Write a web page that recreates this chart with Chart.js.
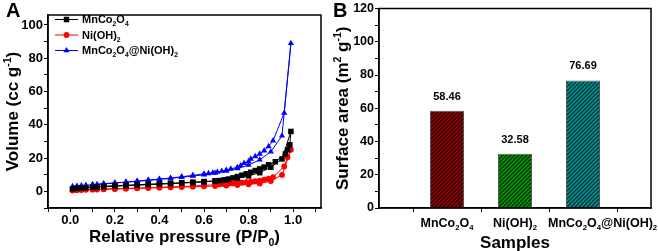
<!DOCTYPE html>
<html><head><meta charset="utf-8">
<script src="https://cdn.jsdelivr.net/npm/chart.js@4.4.1/dist/chart.umd.min.js"></script>
<style>
html,body{margin:0;padding:0;background:#fff;}
#wrap{position:relative;width:658px;height:251px;overflow:hidden;background:#fff;}
canvas{position:absolute;top:0;}
#ca{left:0;} #cb{left:330px;}
</style></head><body>
<div id="wrap"><canvas id="ca" width="330" height="251"></canvas><canvas id="cb" width="328" height="251"></canvas></div>
<script>
// ---------- DATA ----------
const seriesNames = ['MnCo_2O_4', 'Ni(OH)_2', 'MnCo_2O_4@Ni(OH)_2'];

// MnCo2O4 isotherm (adsorption then desorption)
const mnP = [0.01,0.03,0.05,0.07,0.10,0.12,0.15,0.20,0.25,0.30,0.35,0.40,0.45,0.50,0.55,0.60,0.65,0.70,0.75,0.80,0.85,0.90,0.95,0.99,
             0.985,0.975,0.965,0.92,0.89,0.87,0.85,0.83,0.81,0.79,0.77,0.75,0.73,0.71,0.69,0.67,0.65,0.60,0.55,0.50,0.45,0.40,0.35,0.30,0.25,0.20,0.15];
const mnV = [1.5,1.8,2.0,2.2,2.4,2.6,2.8,3.1,3.4,3.7,4.0,4.3,4.6,5.0,5.3,5.7,6.3,7.0,8.0,9.3,11.2,14.5,19.5,36,
             28,25,22.5,17.8,16.0,14.6,13.5,12.5,11.5,10.6,9.7,8.9,8.1,7.4,6.9,6.5,6.2,5.9,5.5,5.2,4.9,4.6,4.3,4.0,3.7,3.4,3.1];

// Ni(OH)2 isotherm
const niP = [0.01,0.03,0.05,0.07,0.10,0.12,0.15,0.20,0.25,0.30,0.35,0.40,0.45,0.50,0.55,0.60,0.65,0.70,0.75,0.80,0.85,0.90,0.95,0.99,
             0.975,0.96,0.91,0.89,0.87,0.85,0.83,0.81,0.79,0.77,0.75,0.73,0.71,0.69,0.67,0.65,0.60,0.55,0.50,0.45,0.40,0.35,0.30,0.25,0.20,0.15];
const niV = [0.5,0.7,0.8,0.9,1.0,1.1,1.2,1.4,1.6,1.8,2.0,2.2,2.4,2.6,2.8,3.0,3.2,3.5,3.8,4.2,4.8,6.2,9.9,25,
             20.5,15,8.6,7.6,7.0,6.5,6.1,5.8,5.5,5.2,5.0,4.8,4.6,4.4,4.2,4.0,3.6,3.2,2.9,2.6,2.4,2.2,2.0,1.8,1.6,1.4];

// MnCo2O4@Ni(OH)2 isotherm
const cpP = [0.01,0.03,0.05,0.07,0.10,0.12,0.15,0.20,0.25,0.30,0.35,0.40,0.45,0.50,0.55,0.60,0.65,0.70,0.75,0.80,0.85,0.90,0.95,0.99,
             0.96,0.91,0.89,0.87,0.85,0.83,0.81,0.80,0.78,0.765,0.75,0.72,0.70,0.68,0.66,0.64,0.62,0.60,0.55,0.50,0.45,0.40,0.35,0.30,0.25,0.20,0.15,0.10];
const cpV = [3.0,3.3,3.5,3.7,4.0,4.2,4.5,5.0,5.5,6.0,6.6,7.2,7.8,8.5,9.2,10.0,11.0,12.2,13.8,15.8,19.0,23.8,33.4,89,
             47.2,30.5,27.0,24.5,22.5,21.0,19.5,18.0,17.0,15.5,14.5,13.5,12.8,12.2,11.6,11.2,10.8,10.5,9.6,8.8,8.0,7.4,6.8,6.2,5.6,5.1,4.6,4.1];

// Surface area (panel B)
const sampleNames = ['MnCo_2O_4', 'Ni(OH)_2', 'MnCo_2O_4@Ni(OH)_2'];
const surfaceArea = [58.46, 32.58, 76.69];

// Tick values
const ticksAx = [-0.1,0,0.1,0.2,0.3,0.4,0.5,0.6,0.7,0.8,0.9,1.0,1.1];
const ticksAy = [-10,0,10,20,30,40,50,60,70,80,90,100];
const ticksBy = [0,10,20,30,40,50,60,70,80,90,100,110,120];

// ---------- HELPERS ----------
const FAM = '"Liberation Sans", Arial, Helvetica, sans-serif';
function parseRich(s){
  const segs=[]; let i=0, buf='';
  const flush=()=>{ if(buf){segs.push({t:buf,m:0}); buf='';} };
  while(i<s.length){
    const c=s[i];
    if(c==='_'||c==='^'){
      flush(); const m = c==='_'?1:2; i++;
      let t='';
      if(s[i]==='{'){ i++; while(i<s.length && s[i]!=='}'){t+=s[i];i++;} i++; }
      else { t=s[i]; i++; }
      segs.push({t,m});
    } else { buf+=c; i++; }
  }
  flush(); return segs;
}
function drawRich(ctx, s, x, y, size, align){
  const segs=parseRich(s);
  let w=0;
  segs.forEach(g=>{ const sz = g.m? size*0.62 : size; ctx.font='bold '+sz+'px '+FAM; g.w=ctx.measureText(g.t).width; g.sz=sz; w+=g.w; });
  let cx = align==='center'? x-w/2 : (align==='right'? x-w : x);
  ctx.textBaseline='alphabetic'; ctx.textAlign='left'; ctx.fillStyle='#000';
  const base = y + size*0.36;
  segs.forEach(g=>{
    ctx.font='bold '+g.sz+'px '+FAM;
    const dy = g.m===1 ? size*0.25 : (g.m===2 ? -size*0.42 : 0);
    ctx.fillText(g.t, cx, base+dy);
    cx+=g.w;
  });
}
function hatch(base, line){
  const c=document.createElement('canvas'); c.width=4; c.height=4;
  const g=c.getContext('2d');
  g.fillStyle=base; g.fillRect(0,0,4,4);
  g.strokeStyle=line; g.lineWidth=1.3;
  g.beginPath(); g.moveTo(0,4); g.lineTo(4,0); g.moveTo(-1,1); g.lineTo(1,-1); g.moveTo(3,5); g.lineTo(5,3); g.stroke();
  return g.createPattern(c,'repeat');
}
function drawMarker(ctx, style, r, x, y, color){
  if (Chart.helpers && Chart.helpers.drawPoint){
    ctx.fillStyle=color; ctx.strokeStyle=color;
    Chart.helpers.drawPoint(ctx,{pointStyle:style,radius:r,rotation:0,borderWidth:0},x,y);
  }
}
const boxPlugin = {
  id:'box',
  afterDraw(chart){
    const {ctx, chartArea:a} = chart;
    ctx.save(); ctx.strokeStyle='#000'; ctx.lineWidth=1.5;
    ctx.strokeRect(a.left, a.top, a.right-a.left, a.bottom-a.top);
    ctx.restore();
  }
};

// ---------- PANEL A ----------
const mk=(P,V)=>P.map((p,i)=>({x:p,y:V[i]}));
const styleA = [
  {c:'#000000', ps:'rect', r:3.9},
  {c:'#ff0000', ps:'circle', r:2.9},
  {c:'#0000ff', ps:'triangle', r:3.6}
];
const dataA = [mk(mnP,mnV), mk(niP,niV), mk(cpP,cpV)];
const decoA = {
  id:'decoA',
  afterDraw(chart){
    const {ctx, chartArea:a} = chart;
    ctx.save();
    ctx.font='bold 20px '+FAM; ctx.fillStyle='#000'; ctx.textAlign='left'; ctx.textBaseline='alphabetic';
    ctx.fillText('A', 6, 17);
    seriesNames.forEach((n,i)=>{
      const y = a.top + 4.5 + i*15.5;
      const s = styleA[i];
      ctx.strokeStyle=s.c; ctx.lineWidth=1;
      ctx.beginPath(); ctx.moveTo(55,y); ctx.lineTo(78,y); ctx.stroke();
      drawMarker(ctx, s.ps, s.r, 66.5, y, s.c);
      drawRich(ctx, n, 82, y, 11, 'left');
    });
    drawRich(ctx, 'Relative pressure (P/P_0)', (a.left+a.right)/2, 236, 17, 'center');
    ctx.translate(12, (a.top+a.bottom)/2); ctx.rotate(-Math.PI/2);
    drawRich(ctx, 'Volume (cc g^{-1})', 0, 0, 17, 'center');
    ctx.restore();
  }
};
new Chart(document.getElementById('ca'), {
  type:'scatter',
  data:{datasets: dataA.map((d,i)=>({
    label: seriesNames[i], data:d, showLine:true,
    borderColor: styleA[i].c, backgroundColor: styleA[i].c,
    borderWidth:1, pointStyle: styleA[i].ps, pointRadius: styleA[i].r, pointBorderWidth:0,
    pointHoverRadius: styleA[i].r, tension:0
  }))},
  options:{
    responsive:false, animation:false, devicePixelRatio:1,
    layout:{padding:{left:0,right:9,top:15,bottom:0}},
    plugins:{legend:{display:false}, tooltip:{enabled:false}},
    scales:{
      x:{type:'linear', min:-0.1, max:1.125,
        afterBuildTicks(s){ s.ticks = ticksAx.map(v=>({value:v})); },
        afterFit(s){ s.height=43; },
        grid:{display:true, drawOnChartArea:false, tickLength:4, color:'#000', lineWidth:1},
        border:{display:true, color:'#000', width:1.5},
        ticks:{autoSkip:false, maxRotation:0, padding:1, color:'#000', font:{family:FAM, size:13, weight:'bold'},
          callback(v){ const k=Math.round(v*10); return (k>=0 && k<=10 && k%2===0)? (k/10).toFixed(1) : ''; }}
      },
      y:{type:'linear', min:-10, max:106,
        afterBuildTicks(s){ s.ticks = ticksAy.map(v=>({value:v})); },
        afterFit(s){ s.width=48; },
        grid:{display:true, drawOnChartArea:false, tickLength:4, color:'#000', lineWidth:1},
        border:{display:true, color:'#000', width:1.5},
        ticks:{autoSkip:false, padding:1, color:'#000', font:{family:FAM, size:13, weight:'bold'},
          callback(v){ return (v>=0 && v%20===0)? String(v) : ''; }}
      }
    }
  },
  plugins:[boxPlugin, decoA]
});

// ---------- PANEL B ----------
const catLabels = ['', ...sampleNames, ''];
const barData = [null, ...surfaceArea, null];
const fills = [null, hatch('#980808','#2a0000'), hatch('#089808','#003400'), hatch('#089494','#003434'), null];
const decoB = {
  id:'decoB',
  afterDraw(chart){
    const {ctx, chartArea:a} = chart;
    const xs = chart.scales.x;
    ctx.save();
    ctx.font='bold 20px '+FAM; ctx.fillStyle='#000'; ctx.textAlign='left'; ctx.textBaseline='alphabetic';
    ctx.fillText('B', 3, 17);
    catLabels.forEach((l,i)=>{
      if(!l) return;
      const px = xs.getPixelForTick(i);
      if (i === catLabels.length-2) drawRich(ctx, l, px-35, 222, 12.5, 'left');
      else drawRich(ctx, l, px, 222, 12.5, 'center');
    });
    const meta = chart.getDatasetMeta(0);
    meta.data.forEach((bar,i)=>{
      if(barData[i]==null) return;
      drawRich(ctx, barData[i].toFixed(2), bar.x, bar.y-15, 11, 'center');
    });
    drawRich(ctx, 'Samples', (a.left+a.right)/2, 242, 17, 'center');
    ctx.translate(12, (a.top+a.bottom)/2); ctx.rotate(-Math.PI/2);
    drawRich(ctx, 'Surface area (m^2 g^{-1})', 0, 0, 17, 'center');
    ctx.restore();
  }
};
new Chart(document.getElementById('cb'), {
  type:'bar',
  data:{labels:catLabels, datasets:[{label:'Surface area', data:barData,
    backgroundColor:fills, borderColor:'#555', borderWidth:1,
    barPercentage:0.5, categoryPercentage:1}]},
  options:{
    responsive:false, animation:false, devicePixelRatio:1,
    layout:{padding:{left:0,right:7,top:8,bottom:0}},
    plugins:{legend:{display:false}, tooltip:{enabled:false}},
    scales:{
      x:{type:'category', offset:false,
        afterFit(s){ s.height=43; },
        grid:{display:true, drawOnChartArea:false, tickLength:4, color:'#000', lineWidth:1},
        border:{display:true, color:'#000', width:1.5},
        ticks:{autoSkip:false, maxRotation:0, callback(){ return ''; }}
      },
      y:{type:'linear', min:0, max:120,
        afterBuildTicks(s){ s.ticks = ticksBy.map(v=>({value:v})); },
        afterFit(s){ s.width=49; },
        grid:{display:true, drawOnChartArea:false, tickLength:4, color:'#000', lineWidth:1},
        border:{display:true, color:'#000', width:1.5},
        ticks:{autoSkip:false, padding:1, color:'#000', font:{family:FAM, size:12.5, weight:'bold'},
          callback(v){ return v%20===0? String(v) : ''; }}
      }
    }
  },
  plugins:[boxPlugin, decoB]
});
</script>
</body></html>
